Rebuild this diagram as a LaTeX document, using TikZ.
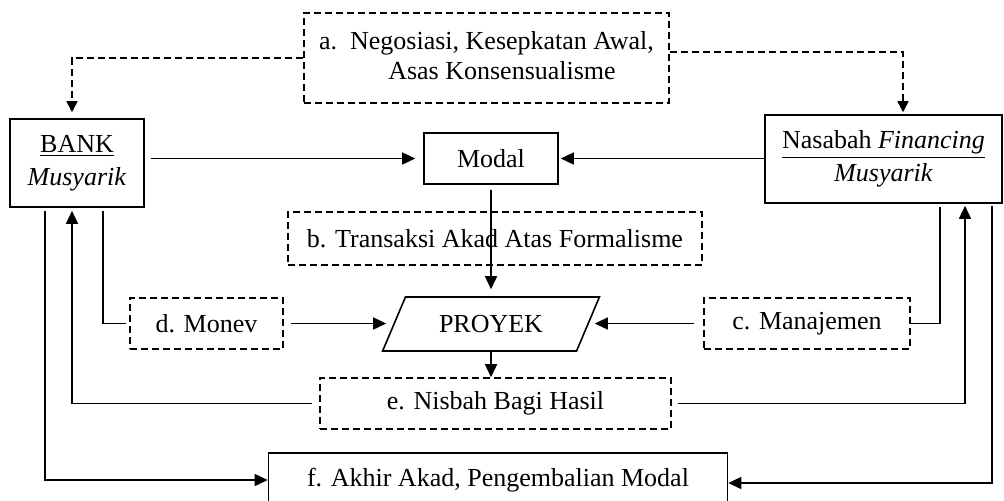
\documentclass[tikz,border=0pt]{standalone}
\usepackage{fontspec}
\setmainfont{Liberation Serif}
\usetikzlibrary{shapes.geometric,arrows.meta,calc}
\begin{document}
\begin{tikzpicture}[x=0.5pt,y=-0.5pt,
  font=\fontsize{13pt}{15pt}\selectfont,
  line width=0.8pt,
  solidbox/.style={draw, inner sep=0pt, align=center},
  dashbox/.style={draw, dash pattern=on 3.5pt off 2pt, inner sep=0pt, align=center},
  arr/.style={-{Triangle[length=6.5pt,width=6pt]}},
  darr/.style={dash pattern=on 3.5pt off 2pt, -{Triangle[length=5.5pt,width=5.5pt]}}]
\useasboundingbox (0,0) rectangle (1004,500);
% nodes
\node[dashbox, minimum width=182.5pt, minimum height=45pt] (a) at (486.5,58)
  {a.~~\begin{tabular}[t]{@{}c@{}}Negosiasi, Kesepkatan Awal,\\Asas Konsensualisme\end{tabular}};
\node[solidbox, minimum width=67pt, minimum height=44pt] (bank) at (77,163)
  {\underline{BANK}\\[1.5pt]\textit{Musyarik}};
\node[solidbox, minimum width=67pt, minimum height=25.5pt] (modal) at (491,158.5) {Modal};
\node[solidbox, minimum width=118.5pt, minimum height=44pt] (nasabah) at (883.5,159)
  {\underline{Nasabah \textit{Financing}}\\[1.5pt]\textit{Musyarik}};
\node[dashbox, minimum width=207pt, minimum height=26.5pt] (b) at (495,238.5)
  {b. Transaksi Akad Atas Formalisme};
\node[draw, trapezium, trapezium left angle=51.5, trapezium right angle=128.5,
  trapezium stretches=true, minimum width=109pt, minimum height=27pt, inner sep=0pt]
  (proyek) at (491,324) {PROYEK};
\node[dashbox, minimum width=76.5pt, minimum height=25.5pt] (d) at (206.5,323.5) {d. Monev};
\node[dashbox, minimum width=103pt, minimum height=25.5pt] (c) at (807,323.5) {c. Manajemen};
\node[dashbox, minimum width=175.5pt, minimum height=25.5pt] (e) at (495.5,403.5) {e. Nisbah Bagi Hasil};
\node[solidbox, minimum width=229.5pt, minimum height=27pt] (f) at (498,480)
  {f. Akhir Akad, Pengembalian Modal};
% dashed arrows from a
\draw[darr, shorten >=3pt] (a.west) -| ([xshift=-2.5pt]bank.north);
\draw[darr, shorten >=1pt] ([yshift=3pt]a.east) -| ([xshift=9.75pt]nasabah.north);
% to modal
\draw[arr, shorten <=3pt, shorten >=4pt] (bank.east |- modal.west) -- (modal.west);
\draw[arr, shorten >=1pt] (nasabah.west |- modal.east) -- (modal.east);
% modal to proyek
\draw[arr, shorten <=2.5pt, shorten >=3.5pt] (modal.south) -- (proyek.north);
% d, c to proyek
\draw[arr, shorten <=3.5pt, shorten >=3.5pt] (d.east) -- (d.east -| proyek.west);
\draw[arr, shorten <=4.5pt, shorten >=3pt] (c.west) -- (c.west -| proyek.east);
% proyek to e
\draw[arr] (proyek.south) -- (proyek.south |- e.north);
% bank/nasabah to d/c
\draw[shorten <=1.5pt, shorten >=1.5pt] ([xshift=13pt]bank.south) |- (d.west);
\draw[shorten <=1.5pt, shorten >=0pt] ([xshift=28.25pt]nasabah.south) |- (c.east);
% e back to bank / nasabah
\draw[arr, shorten <=3.5pt, shorten >=1.5pt] (e.west) -| ([xshift=-2.5pt]bank.south);
\draw[arr, shorten <=3pt, shorten >=1pt] (e.east) -| ([xshift=40.75pt]nasabah.south);
% bank / nasabah to f
\draw[arr, shorten <=1.5pt] ([xshift=-16pt]bank.south) |- (f.west);
\draw[arr, shorten <=1pt] ([xshift=54.25pt]nasabah.south) |- ([yshift=-1.5pt]f.east);
\end{tikzpicture}
\end{document}
